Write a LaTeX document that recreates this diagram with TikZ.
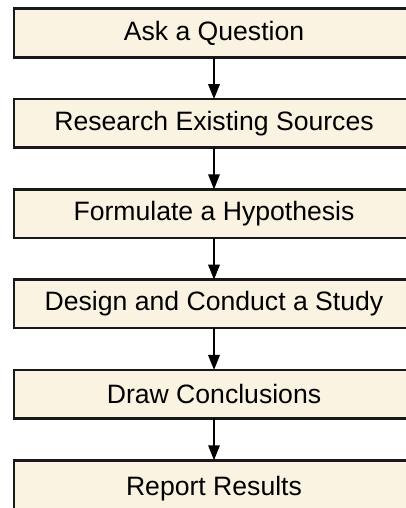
\documentclass[tikz,border=0pt]{standalone}
\usepackage{fontspec}
\setmainfont{Liberation Sans}
\usetikzlibrary{positioning,arrows.meta}

\definecolor{stepfill}{RGB}{250,243,225}

\begin{document}
\begin{tikzpicture}[x=1pt,y=1pt,
  stepbox/.style={draw=black!90,line width=2.6pt,fill=stepfill,minimum width=400pt,minimum height=48.5pt,outer sep=0pt,inner sep=0pt,font=\fontsize{26.6}{31}\selectfont},
  flow/.style={line width=1.8pt,-{Triangle[length=15pt,width=11.5pt]}},
  node distance=41.8pt]

\useasboundingbox (0,0) rectangle (406,-508);

\node[stepbox] (ask) at (214,-33) {Ask a Question};

\node[stepbox,below=of ask] (research) {Research Existing Sources};

\node[stepbox,below=of research] (hypo) {Formulate a Hypothesis};

\node[stepbox,below=of hypo] (study) {Design and Conduct a Study};

\node[stepbox,below=of study] (concl) {Draw Conclusions};

\node[stepbox,minimum height=56pt,below=of concl] (report) {Report Results};

\draw[flow] (ask) -- (research);

\draw[flow] (research) -- (hypo);

\draw[flow] (hypo) -- (study);

\draw[flow] (study) -- (concl);

\draw[flow] (concl) -- (report);

\end{tikzpicture}
\end{document}
